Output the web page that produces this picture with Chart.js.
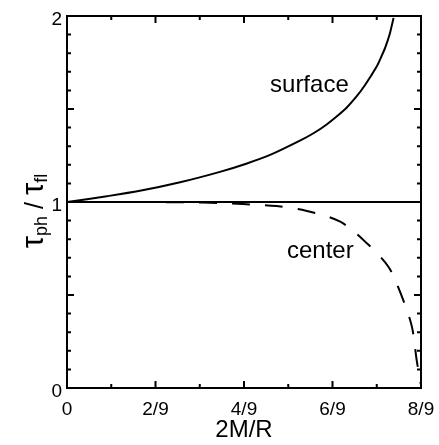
<!DOCTYPE html>
<html><head><meta charset="utf-8">
<script src="https://cdn.jsdelivr.net/npm/chart.js@4.4.1/dist/chart.umd.min.js"></script>
<style>html,body{margin:0;padding:0;background:#fff}#wrap{width:439px;height:445px;position:relative}</style>
</head><body><div id="wrap"><canvas id="c"></canvas></div>
<script>
// ---- data ----
const surfaceX = [0, 0.1, 0.183, 0.284, 0.384, 0.45, 0.51, 0.585, 0.62, 0.652, 0.68, 0.702, 0.725, 0.748, 0.778, 0.79, 0.799, 0.81, 0.82];
const surfaceY = [1.0, 1.031, 1.06, 1.106, 1.162, 1.206, 1.253, 1.33, 1.371, 1.417, 1.465, 1.507, 1.562, 1.628, 1.73, 1.785, 1.83, 1.9, 1.99];
const centerX = [0, 0.1, 0.2, 0.3, 0.38, 0.442, 0.526, 0.6, 0.686, 0.753, 0.807, 0.841, 0.866, 0.878, 0.885, 0.8885];
const centerY = [1.0, 1.0, 1.0, 0.998, 0.995, 0.989, 0.978, 0.953, 0.894, 0.778, 0.652, 0.491, 0.33, 0.15, 0.06, 0.02];
const refX = [0, 8/9];
const refY = [1, 1];
const xTickValues = [0, 2/9, 4/9, 6/9, 8/9];
const xTickLabels = ['0', '2/9', '4/9', '6/9', '8/9'];
const xMinorTicks = [1/9, 3/9, 5/9, 7/9];
const yTickValues = [0, 1, 2];
const yTickLabels = ['0', '1', '2'];
const yMajorTicks = [0.5, 1, 1.5];
const yMinorTicks = [0.1, 0.2, 0.3, 0.4, 0.6, 0.7, 0.8, 0.9, 1.1, 1.2, 1.3, 1.4, 1.6, 1.7, 1.8, 1.9];
const curveLabels = ['surface', 'center'];
const curveLabelAnchors = [{x: 0.5098, y: 1.591}, {x: 0.5524, y: 0.699}];

const FONT = '"Liberation Sans", Arial, Helvetica, sans-serif';

const pts = (xs, ys) => xs.map((x, i) => ({x, y: ys[i]}));

const frameTicks = {
  id: 'frameTicks',
  afterDraw(chart) {
    const {ctx, chartArea: {left, right, top, bottom}, scales: {x, y}} = chart;
    ctx.save();
    ctx.strokeStyle = '#000';
    ctx.lineWidth = 2;
    ctx.strokeRect(left, top, right - left, bottom - top);
    ctx.beginPath();
    const xt = (v, len) => {
      const px = x.getPixelForValue(v);
      ctx.moveTo(px, bottom); ctx.lineTo(px, bottom - len);
      ctx.moveTo(px, top); ctx.lineTo(px, top + len);
    };
    const yt = (v, len) => {
      const py = y.getPixelForValue(v);
      ctx.moveTo(left, py); ctx.lineTo(left + len, py);
      ctx.moveTo(right, py); ctx.lineTo(right - len, py);
    };
    xTickValues.forEach(v => xt(v, 7));
    xMinorTicks.forEach(v => xt(v, 4));
    yMajorTicks.forEach(v => yt(v, 7));
    yMinorTicks.forEach(v => yt(v, 4));
    ctx.stroke();
    ctx.fillStyle = '#000';
    // y tick labels
    ctx.font = '19px ' + FONT;
    ctx.textAlign = 'right';
    ctx.textBaseline = 'middle';
    yTickValues.forEach((v, i) => {
      ctx.fillText(yTickLabels[i], left - 5, y.getPixelForValue(v) + 4);
    });
    // curve labels
    ctx.font = '24px ' + FONT;
    ctx.textAlign = 'left';
    ctx.textBaseline = 'alphabetic';
    curveLabels.forEach((t, i) => {
      const a = curveLabelAnchors[i];
      ctx.fillText(t, x.getPixelForValue(a.x), y.getPixelForValue(a.y));
    });
    // y title with subscripts
    const parts = [
      {t: 'τ', size: 31, dy: 0},
      {t: 'ph', size: 18, dy: 4},
      {t: ' / ', size: 25, dy: 0},
      {t: 'τ', size: 31, dy: 0},
      {t: 'fl', size: 18, dy: 4}
    ];
    let total = 0;
    parts.forEach(p => { ctx.font = p.size + 'px ' + FONT; p.w = ctx.measureText(p.t).width; total += p.w; });
    const cy = (top + bottom) / 2 + 9;
    ctx.translate(43, cy);
    ctx.rotate(-Math.PI / 2);
    let u = -total / 2;
    parts.forEach(p => { ctx.font = p.size + 'px ' + FONT; ctx.fillText(p.t, u, p.dy); u += p.w; });
    ctx.restore();
  }
};

new Chart(document.getElementById('c'), {
  type: 'line',
  data: {
    datasets: [
      {data: pts(refX, refY), borderColor: '#000', borderWidth: 2, pointRadius: 0, tension: 0, fill: false},
      {data: pts(surfaceX, surfaceY), borderColor: '#000', borderWidth: 2, pointRadius: 0, tension: 0.3, fill: false},
      {data: pts(centerX, centerY), borderColor: '#000', borderWidth: 2, borderDash: [18, 15], pointRadius: 0, tension: 0.3, fill: false}
    ]
  },
  options: {
    responsive: true,
    maintainAspectRatio: false,
    animation: false,
    layout: {padding: {top: 16, right: 18, left: 0, bottom: 0}},
    plugins: {legend: {display: false}, tooltip: {enabled: false}},
    scales: {
      x: {
        type: 'linear', min: 0, max: 8/9,
        grid: {display: false, drawTicks: false},
        border: {display: false},
        afterBuildTicks: s => { s.ticks = xTickValues.map(v => ({value: v})); },
        ticks: {callback: (v, i) => xTickLabels[i], font: {family: FONT, size: 19}, color: '#000', padding: 10, maxRotation: 0, minRotation: 0, autoSkip: false},
        title: {display: true, text: '2M/R', font: {family: FONT, size: 24}, color: '#000', padding: 0},
        afterFit: s => { s.height = 57; s.paddingLeft = 0; s.paddingRight = 0; }
      },
      y: {
        type: 'linear', min: 0, max: 2,
        grid: {display: false, drawTicks: false},
        border: {display: false},
        afterBuildTicks: s => { s.ticks = yTickValues.map(v => ({value: v})); },
        ticks: {display: false},
        afterFit: s => { s.width = 67; s.paddingTop = 0; s.paddingBottom = 0; }
      }
    }
  },
  plugins: [frameTicks]
});
</script>
</body></html>
